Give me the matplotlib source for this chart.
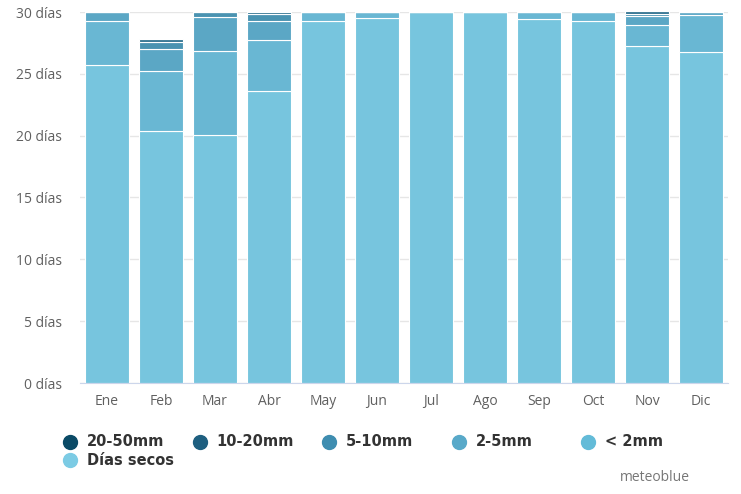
import matplotlib
matplotlib.use("Agg")
import matplotlib.pyplot as plt
from matplotlib.lines import Line2D
import numpy as np

# datos (dias por mes)
meses = ["Ene", "Feb", "Mar", "Abr", "May", "Jun", "Jul", "Ago", "Sep", "Oct", "Nov", "Dic"]
dias_secos = [25.7, 20.4, 20.05, 23.6, 29.25, 29.5, 30.0, 30.0, 29.45, 29.25, 27.25, 26.75]
menos_2mm = [3.6, 4.8, 6.8, 4.1, 0.75, 0.5, 0.0, 0.0, 0.55, 0.75, 1.7, 3.0]
mm_2_5 = [0.7, 1.8, 2.75, 1.55, 0.0, 0.0, 0.0, 0.0, 0.0, 0.0, 0.75, 0.25]
mm_5_10 = [0.0, 0.6, 0.4, 0.55, 0.0, 0.0, 0.0, 0.0, 0.0, 0.0, 0.15, 0.0]
mm_10_20 = [0.0, 0.2, 0.0, 0.2, 0.0, 0.0, 0.0, 0.0, 0.0, 0.0, 0.2, 0.0]
mm_20_50 = [0.0] * 12
y_ticks = [0, 5, 10, 15, 20, 25, 30]

# series de abajo hacia arriba: (etiqueta, valores, color barra, color leyenda)
series = [
    ("Días secos", dias_secos, "#77c5de", "#7ccbe4"),
    ("< 2mm", menos_2mm, "#69b7d3", "#63bbd8"),
    ("2-5mm", mm_2_5, "#5ba7c5", "#58a9c9"),
    ("5-10mm", mm_5_10, "#4a93b1", "#3e8db0"),
    ("10-20mm", mm_10_20, "#337492", "#1e5f80"),
    ("20-50mm", mm_20_50, "#124d67", "#0a4a66"),
]

fig = plt.figure(figsize=(7.41, 4.94), dpi=100)
ax = fig.add_axes([80 / 741, 1 - 383 / 494, 648 / 741, 371 / 494])

x = np.arange(len(meses))
base = np.zeros(len(meses))
for nombre, vals, col, _ in series:
    vals = np.array(vals)
    ax.bar(x, vals, bottom=base, width=0.8, color=col, edgecolor="white",
           linewidth=0.8, zorder=2)
    base += vals

ax.set_xlim(-0.5, len(meses) - 0.5)
ax.set_ylim(0, 30)
ax.set_yticks(y_ticks)
ax.set_yticklabels([f"{v} días" for v in y_ticks])
ax.set_xticks(x)
ax.set_xticklabels(meses)
ax.tick_params(axis="both", length=0, labelsize=10, labelcolor="#606060")
ax.tick_params(axis="y", pad=13)
ax.tick_params(axis="x", pad=8)
for lbl in ax.get_xticklabels() + ax.get_yticklabels():
    lbl.set_family("Open Sans")

ax.grid(axis="y", color="#e6e6e6", linewidth=1, zorder=0)
for s in ["top", "right", "left"]:
    ax.spines[s].set_visible(False)
ax.spines["bottom"].set_color("#ccd6eb")

# leyenda manual, como la de highcharts (ancho fijo por elemento)
orden = [5, 4, 3, 2, 1]
for i, k in enumerate(orden):
    nombre, _, _, lcol = series[k]
    cx = (70 + 129.5 * i) / 741
    cy = 1 - 441.5 / 494
    fig.add_artist(Line2D([cx], [cy], marker="o", markersize=10, color=lcol,
                          linestyle="none", transform=fig.transFigure))
    fig.text(cx + 17 / 741, cy, nombre, fontsize=10.5, fontweight="bold",
             color="#333333", va="center", ha="left")
nombre, _, _, lcol = series[0]
cy2 = 1 - 460 / 494
fig.add_artist(Line2D([70 / 741], [cy2], marker="o", markersize=10, color=lcol,
                      linestyle="none", transform=fig.transFigure))
fig.text(87 / 741, cy2, nombre, fontsize=10.5, fontweight="bold",
         color="#333333", va="center", ha="left")

fig.text(690 / 741, 1 - 477 / 494, "meteoblue", fontsize=10, color="#777777",
         ha="right", va="center", family="Open Sans")

fig.savefig("out.png", dpi=100)
